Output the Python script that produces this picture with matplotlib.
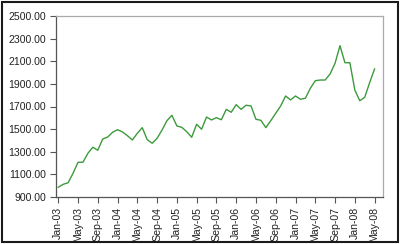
import numpy as np
import matplotlib
matplotlib.use('Agg')
import matplotlib.pyplot as plt
from matplotlib.patches import Rectangle

# monthly values Jan-03 .. May-08
values = [986, 1012, 1026, 1110, 1207, 1207, 1286, 1340, 1313, 1413, 1430, 1472,
          1495, 1475, 1442, 1404, 1463, 1513, 1407, 1375, 1419, 1492, 1575, 1622,
          1528, 1516, 1477, 1428, 1543, 1499, 1607, 1581, 1601, 1583, 1675, 1649,
          1716, 1675, 1711, 1705, 1587, 1578, 1513, 1575, 1640, 1705, 1793, 1758,
          1793, 1764, 1773, 1861, 1928, 1934, 1934, 1988, 2082, 2238, 2087, 2087,
          1846, 1751, 1781, 1911, 2032]
tick_labels = ['Jan-03', 'May-03', 'Sep-03', 'Jan-04', 'May-04', 'Sep-04', 'Jan-05',
               'May-05', 'Sep-05', 'Jan-06', 'May-06', 'Sep-06', 'Jan-07', 'May-07',
               'Sep-07', 'Jan-08', 'May-08']
y_ticks = [900, 1100, 1300, 1500, 1700, 1900, 2100, 2300, 2500]

plt.rcParams['font.family'] = ['Liberation Sans', 'DejaVu Sans']

fig = plt.figure(figsize=(4, 2.44), dpi=100)
fig.patch.set_facecolor('white')
# outer frame
fig.add_artist(Rectangle((2/400, 2/244), 396/400, 240/244, transform=fig.transFigure,
                         fill=False, edgecolor='#1a1a1a', linewidth=1.5))

ax = fig.add_axes([56/400, 47/244, 327/400, 181/244])
x = np.arange(len(values))
ax.plot(x, values, color='#3c9a3c', linewidth=1.0)

ax.set_ylim(900, 2500)
ax.set_yticks(y_ticks)
ax.set_yticklabels(['%.2f' % v for v in y_ticks], fontsize=7.6, color='#222222')
ax.set_xlim(-0.45, 65.7)
ax.set_xticks(np.arange(0, len(values), 4))
ax.set_xticklabels(tick_labels, rotation=90, fontsize=7.6, color='#222222')

ax.tick_params(axis='both', direction='out', length=4, width=0.8, color='#555555', pad=3)
ax.spines['left'].set_color('#555555')
ax.spines['bottom'].set_color('#555555')
ax.spines['top'].set_color('#aaaaaa')
ax.spines['right'].set_color('#aaaaaa')
for s in ax.spines.values():
    s.set_linewidth(0.9)

fig.savefig('out.png', dpi=100)
